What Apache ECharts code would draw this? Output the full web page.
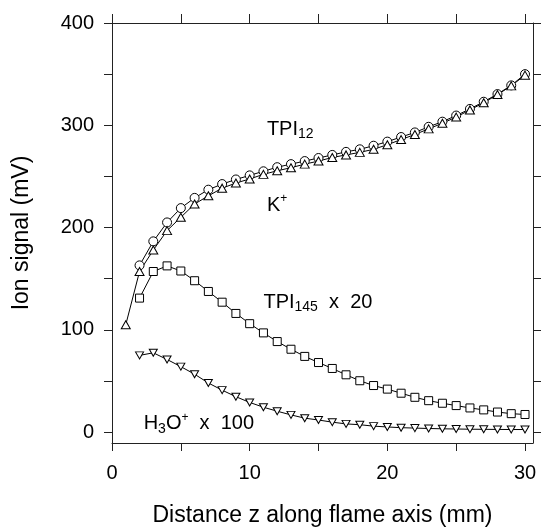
<!DOCTYPE html>
<html>
<head>
<meta charset="utf-8">
<script src="https://cdn.jsdelivr.net/npm/echarts@6/dist/echarts.min.js"></script>
<style>
html,body{margin:0;padding:0;background:#fff;}
#chart{width:541px;height:532px;}
</style>
</head>
<body>
<div id="chart"></div>
<script>
// Distance z (mm)
var zK = [1,2,3,4,5,6,7,8,9,10,11,12,13,14,15,16,17,18,19,20,21,22,23,24,25,26,27,28,29,30];
var zOther = [2,3,4,5,6,7,8,9,10,11,12,13,14,15,16,17,18,19,20,21,22,23,24,25,26,27,28,29,30];
// Ion signals (mV)
var kPlus = [105,157,178,197,210,223,231,238.5,243.5,247.5,252,255.5,258.5,262,265,268.5,271,273.5,276.5,281,286,291,296.5,302,308,315,322,330,338.5,349];
var tpi12 = [163,186.5,205,219,229,237,242.5,247,251,255,259,262,265,268,271,274,276.5,280,284,288.5,293,298.5,303.5,309.5,316,323,330.5,339,350];
var tpi145x20 = [131,157,162.5,157.5,148,137.5,127,116,106,97,88.5,81,74,68,62.2,56,50.2,45.5,42,38,34,30.7,28.2,25.9,23.6,21.7,19.6,18,17.2];
var h3oX100 = [75,77.5,71,64,56.6,48,41,34.6,29,24.3,20.4,16.8,13.6,11.8,9.7,8,7.2,5.8,5,4.3,3.9,3.5,3.2,3,2.8,2.7,2.6,2.5,2.5];
// Tick values
var xTicks = [0,5,10,15,20,25,30];
var xLabels = [0,10,20,30];
var yTicks = [0,50,100,150,200,250,300,350,400];
var yLabels = [0,100,200,300,400];
// Annotation labels [z, signal, rich text]
var annotations = [
  [11.25, 296, '{m|TPI}{s|12}'],
  [11.25, 222, '{m|K}{p|+}'],
  [11.0, 126.6, '{m|TPI}{s|145}{m|  x  20}'],
  [2.3, 8.2, '{m|H}{s|3}{m|O}{p|+}{m|  x  100}']
];

function pairs(xs, ys){ return xs.map(function(x,i){ return [x, ys[i]]; }); }

var FONT = "'Liberation Sans', Arial, sans-serif";
var AX = '#222';
var chart = echarts.init(document.getElementById('chart'), null, {renderer:'canvas'});

function lineSeries(name, data, symbol, size, rotate){
  return {
    name: name, type: 'line', data: data, symbol: symbol, symbolSize: size,
    symbolRotate: rotate || 0, showAllSymbol: true,
    lineStyle: {color: '#000', width: 1},
    itemStyle: {color: '#fff', borderColor: '#000', borderWidth: 1},
    emphasis: {disabled: true}, animation: false, z: 3
  };
}

var option = {
  animation: false,
  grid: {left: 112, right: 8, top: 23, bottom: 86, containLabel: false},
  xAxis: [{
    type: 'value', min: 0, max: 30.58, position: 'bottom',
    name: 'Distance z along flame axis (mm)', nameLocation: 'middle', nameGap: 61,
    nameTextStyle: {fontFamily: FONT, fontSize: 23, color: '#000'},
    axisLine: {show: true, onZero: false, lineStyle: {color: AX, width: 1}},
    axisTick: {show: true, length: 8, customValues: xTicks, lineStyle: {color: AX}},
    axisLabel: {show: true, customValues: xLabels, margin: 20, fontFamily: FONT, fontSize: 20, color: '#000'},
    splitLine: {show: false}
  },{
    type: 'value', min: 0, max: 30.58, position: 'top',
    axisLine: {show: true, onZero: false, lineStyle: {color: AX, width: 1}},
    axisTick: {show: true, length: 9, customValues: xTicks, lineStyle: {color: AX}},
    axisLabel: {show: false}, splitLine: {show: false}
  }],
  yAxis: [{
    type: 'value', min: -10.68, max: 400, position: 'left',
    name: 'Ion signal (mV)', nameLocation: 'middle', nameGap: 79, nameRotate: 90,
    nameTextStyle: {fontFamily: FONT, fontSize: 23, color: '#000'},
    axisLine: {show: true, onZero: false, lineStyle: {color: AX, width: 1}},
    axisTick: {show: true, length: 8, customValues: yTicks, lineStyle: {color: AX}},
    axisLabel: {show: true, customValues: yLabels, margin: 18, fontFamily: FONT, fontSize: 20, color: '#000'},
    splitLine: {show: false}
  },{
    type: 'value', min: -10.68, max: 400, position: 'right',
    axisLine: {show: true, onZero: false, lineStyle: {color: AX, width: 1}},
    axisTick: {show: true, length: 8, customValues: yTicks, lineStyle: {color: AX}},
    axisLabel: {show: false}, splitLine: {show: false}
  }],
  series: [
    lineSeries('TPI12', pairs(zOther, tpi12), 'circle', 9),
    lineSeries('K+', pairs(zK, kPlus), 'triangle', [9, 8]),
    lineSeries('TPI145 x 20', pairs(zOther, tpi145x20), 'rect', 8),
    lineSeries('H3O+ x 100', pairs(zOther, h3oX100), 'triangle', [8, 7], 180),
    {
      type: 'scatter', name: 'labels', symbolSize: 0, silent: true, z: 5,
      data: annotations.map(function(a){ return {value: [a[0], a[1]], label: {formatter: a[2]}}; }),
      label: {
        show: true, position: 'right', distance: 0, align: 'left', verticalAlign: 'middle',
        color: '#000', textBorderWidth: 0, opacity: 1,
        rich: {
          m: {fontFamily: FONT, fontSize: 20, color: '#000', lineHeight: 24},
          s: {fontFamily: FONT, fontSize: 14, color: '#000', lineHeight: 2, verticalAlign: 'bottom'},
          p: {fontFamily: FONT, fontSize: 12, color: '#000', lineHeight: 8, verticalAlign: 'top'}
        }
      }
    }
  ]
};
chart.setOption(option);
</script>
</body>
</html>
